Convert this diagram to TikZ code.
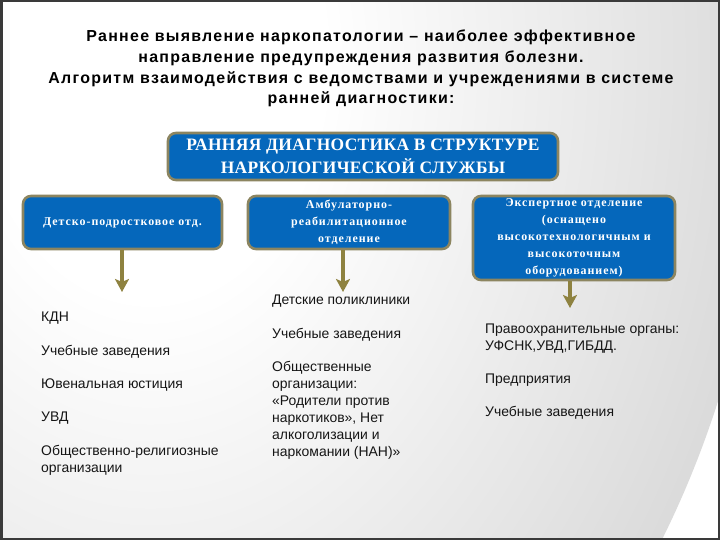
\documentclass[tikz,border=0pt]{standalone}
\usepackage{fontspec}
\setmainfont{Liberation Sans}
\newfontfamily\boxserif{Liberation Serif}[LetterSpace=8]
\newfontfamily\headserif{Liberation Serif}[LetterSpace=2]
\newfontfamily\titlesans{Liberation Sans}[LetterSpace=8]
\usetikzlibrary{arrows.meta}
\definecolor{boxblue}{HTML}{0567BB}
\definecolor{boxrim}{HTML}{8C8560}
\definecolor{arrowol}{HTML}{8E8240}
\definecolor{frame}{HTML}{3A3A3A}
\definecolor{txt}{HTML}{151515}
\definecolor{bgout}{HTML}{A8A8A8}
\pgfdeclareradialshading{bgshade}{\pgfpoint{0bp}{0bp}}{color(0bp)=(white); color(7bp)=(white); color(50bp)=(bgout)}
\tikzset{
  bluebox/.style={draw=boxrim, line width=2.6bp, fill=boxblue, rounded corners=8bp,
    text=white, align=center, inner sep=2bp, font=\boxserif\bfseries\fontsize{12}{17}\selectfont},
  headbox/.style={bluebox, font=\headserif\bfseries\fontsize{17.5}{23}\selectfont},
  flow/.style={draw=arrowol, line width=4.5bp, -{Stealth[width=14bp,length=13bp,inset=3bp]}},
  item/.style={anchor=base west, inner sep=0pt, align=left, text=txt,
    font=\fontsize{14}{17}\selectfont},
}
\begin{document}
\begin{tikzpicture}[x=1bp,y=-1bp]
\useasboundingbox (0,0) rectangle (720,540);
\begin{scope}
  \clip (0,0) rectangle (720,540);
  \shade[shading=bgshade] (150,60) ellipse [x radius=620, y radius=850];
\end{scope}
\draw[frame, line width=2.5bp] (1.25,1.25) rectangle (718.75,538.75);

% multi-line nodes: the base anchor is the baseline of the last line
\node[anchor=base, inner sep=0pt, align=center, text=black,
  font=\titlesans\bfseries\fontsize{16}{21}\selectfont] (title) at (361,104)
  {Раннее выявление наркопатологии – наиболее эффективное\\
   направление предупреждения развития болезни.\\
   Алгоритм взаимодействия с ведомствами и учреждениями в системе\\
   ранней диагностики:};

\node[headbox, minimum width=390bp, minimum height=47bp] (head) at (363,156.5)
  {РАННЯЯ ДИАГНОСТИКА В СТРУКТУРЕ\\НАРКОЛОГИЧЕСКОЙ СЛУЖБЫ};

\node[bluebox, minimum width=199bp, minimum height=53bp] (b1) at (122.5,222.5)
  {Детско-подростковое отд.};
\node[bluebox, minimum width=202bp, minimum height=53bp] (b2) at (349,222.5)
  {Амбулаторно-\\реабилитационное\\отделение};
\node[bluebox, minimum width=202bp, minimum height=84bp] (b3) at (574,238)
  {Экспертное отделение\\(оснащено\\высокотехнологичным и\\высокоточным\\оборудованием)};

\coordinate (e1) at (122,292);
\coordinate (e2) at (343,292);
\coordinate (e3) at (570,308);
\draw[flow] (b1.south -| e1) -- (e1);
\draw[flow] (b2.south -| e2) -- (e2);
\draw[flow] (b3.south -| e3) -- (e3);

\node[item] (l1) at (41,321) {КДН};
\node[item] (l2) at (41,355) {Учебные заведения};
\node[item] (l3) at (41,388) {Ювенальная юстиция};
\node[item] (l4) at (41,421) {УВД};
\node[item] (l5) at (41,472) {Общественно-религиозные\\организации};

\node[item] (m1) at (272,304) {Детские поликлиники};
\node[item] (m2) at (272,338) {Учебные заведения};
\node[item] (m3) at (272,456) {Общественные\\организации:\\«Родители против\\наркотиков», Нет\\алкоголизации и\\наркомании (НАН)»};

\node[item] (r1) at (485,350) {Правоохранительные органы:\\УФСНК,УВД,ГИБДД.};
\node[item] (r2) at (485,383) {Предприятия};
\node[item] (r3) at (485,416) {Учебные заведения};
\end{tikzpicture}
\end{document}
